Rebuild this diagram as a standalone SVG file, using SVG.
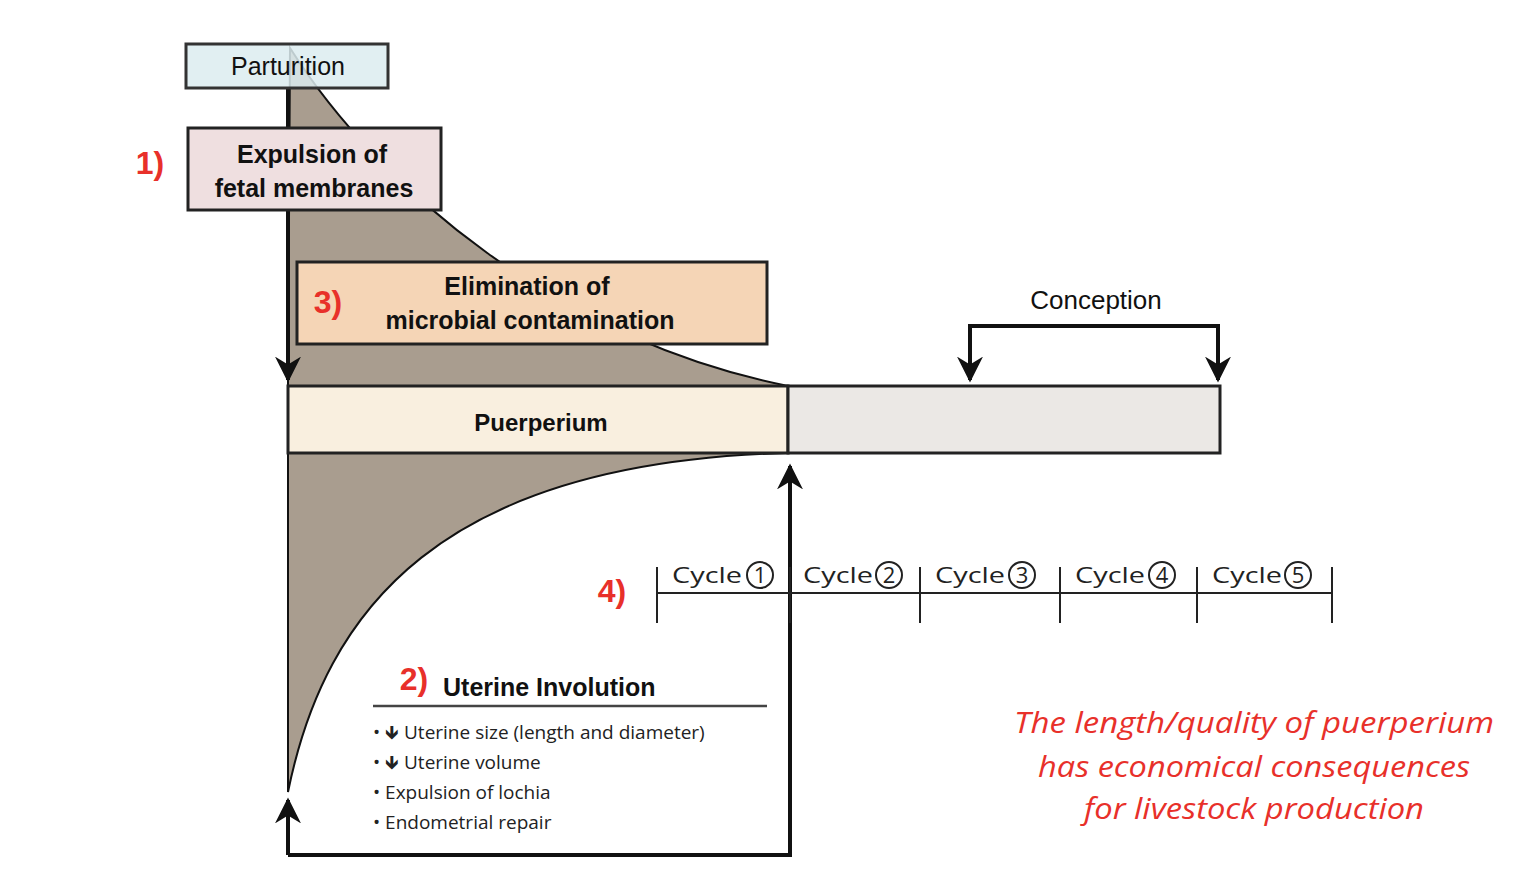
<svg xmlns="http://www.w3.org/2000/svg" width="1518" height="882" viewBox="0 0 1518 882">
<defs>
<marker id="ahb" viewBox="0 0 10 10" refX="9" refY="5" markerWidth="26" markerHeight="26" orient="auto" markerUnits="userSpaceOnUse"><path d="M0,0 L10,5 L0,10 L3,5 Z" fill="#111"/></marker>
<style>
.t{font-family:"Liberation Sans",Arial,sans-serif;fill:#111}
.b{font-weight:bold}
.r{font-family:"Liberation Sans",Arial,sans-serif;fill:#e8302a;font-weight:bold}
.ln{stroke:#111;stroke-width:4;fill:none}
.thin{stroke:#222;stroke-width:2;fill:none}
.cyc{font-family:"Open Sans","Liberation Sans",sans-serif;font-size:22px;fill:#222}
.li{font-family:"Open Sans","Liberation Sans",sans-serif;font-size:19px;fill:#222}
.n{font-family:"Open Sans",Lato,sans-serif;font-style:italic;font-size:29px;fill:#e8302a}
</style>
</defs>
<g id="shading">
<path d="M290,48 C380,190 560,340 788,386 L288,386 Z" fill="#a99d8f" stroke="#111" stroke-width="2"/>
<path d="M288,453 L788,453 C440,462 325,610 288,792 Z" fill="#a99d8f" stroke="#111" stroke-width="2"/>
</g>
<g id="connectors">
<path class="ln" d="M288,88 L288,380" marker-end="url(#ahb)"/>
<path class="ln" d="M288,855 L790,855 L790,466" marker-end="url(#ahb)"/>
<path class="ln" d="M288,855 L288,800" marker-end="url(#ahb)"/>
<path class="ln" d="M970,380 L970,326 L1218,326 L1218,380"/>
<path class="ln" d="M970,360 L970,380" marker-end="url(#ahb)"/>
<path class="ln" d="M1218,360 L1218,380" marker-end="url(#ahb)"/>
</g>
<g id="parturition">
<rect x="186" y="44" width="202" height="44" fill="#dcecf0" fill-opacity="0.85" stroke="#333" stroke-width="3"/>
<text class="t" x="288" y="75" font-size="25" text-anchor="middle">Parturition</text>
</g>
<g id="expulsion">
<rect x="188" y="128" width="253" height="82" fill="#efdfe0" stroke="#222" stroke-width="3"/>
<text class="t b" x="312" y="163" font-size="25" text-anchor="middle">Expulsion of</text>
<text class="t b" x="314" y="197" font-size="25" text-anchor="middle">fetal membranes</text>
<text class="r" x="150" y="174" font-size="32" text-anchor="middle">1)</text>
</g>
<g id="elimination">
<rect x="297" y="262" width="470" height="82" fill="#f5d5b6" stroke="#222" stroke-width="3"/>
<text class="t b" x="527" y="295" font-size="25" text-anchor="middle">Elimination of</text>
<text class="t b" x="530" y="329" font-size="25" text-anchor="middle">microbial contamination</text>
<text class="r" x="328" y="313" font-size="32" text-anchor="middle">3)</text>
</g>
<g id="puerperium">
<rect x="288" y="386" width="500" height="67" fill="#f9efdf" stroke="#222" stroke-width="3"/>
<text class="t b" x="541" y="431" font-size="24" text-anchor="middle">Puerperium</text>
</g>
<g id="post">
<rect x="788" y="386" width="432" height="67" fill="#ebe8e5" stroke="#222" stroke-width="3"/>
</g>
<g id="conception">
<text class="t" x="1096" y="309" font-size="26" text-anchor="middle">Conception</text>
</g>
<g id="cycles">
<path class="thin" d="M657,593 L1332,593 M657,567 L657,623 M790,567 L790,623 M920,567 L920,623 M1060,567 L1060,623 M1197,567 L1197,623 M1332,567 L1332,623"/>
<text class="cyc" x="672" y="583" textLength="70" lengthAdjust="spacingAndGlyphs">Cycle</text><circle cx="760" cy="575" r="13" class="thin" stroke-width="1.6"/><text class="cyc" x="760" y="583" text-anchor="middle">1</text>
<text class="cyc" x="803" y="583" textLength="70" lengthAdjust="spacingAndGlyphs">Cycle</text><circle cx="889" cy="575" r="13" class="thin" stroke-width="1.6"/><text class="cyc" x="889" y="583" text-anchor="middle">2</text>
<text class="cyc" x="935" y="583" textLength="70" lengthAdjust="spacingAndGlyphs">Cycle</text><circle cx="1022" cy="575" r="13" class="thin" stroke-width="1.6"/><text class="cyc" x="1022" y="583" text-anchor="middle">3</text>
<text class="cyc" x="1075" y="583" textLength="70" lengthAdjust="spacingAndGlyphs">Cycle</text><circle cx="1162" cy="575" r="13" class="thin" stroke-width="1.6"/><text class="cyc" x="1162" y="583" text-anchor="middle">4</text>
<text class="cyc" x="1212" y="583" textLength="70" lengthAdjust="spacingAndGlyphs">Cycle</text><circle cx="1298" cy="575" r="13" class="thin" stroke-width="1.6"/><text class="cyc" x="1298" y="583" text-anchor="middle">5</text>
<text class="r" x="612" y="602" font-size="32" text-anchor="middle">4)</text>
</g>
<g id="involution">
<text class="r" x="414" y="690" font-size="32" text-anchor="middle">2)</text>
<text class="t b" x="443" y="696" font-size="25">Uterine Involution</text>
<path d="M373,706 L767,706" stroke="#444" stroke-width="2.5"/>
<text class="li" x="373" y="739">•  🡻 Uterine size (length and diameter)</text>
<text class="li" x="373" y="769">•  🡻 Uterine volume</text>
<text class="li" x="373" y="799">•  Expulsion of lochia</text>
<text class="li" x="373" y="829">•  Endometrial repair</text>
</g>
<g id="note">
<text class="n" x="1254" y="733" text-anchor="middle" textLength="480" lengthAdjust="spacingAndGlyphs">The length/quality of puerperium</text>
<text class="n" x="1254" y="777" text-anchor="middle" textLength="432" lengthAdjust="spacingAndGlyphs">has economical consequences</text>
<text class="n" x="1254" y="819" text-anchor="middle" textLength="340" lengthAdjust="spacingAndGlyphs">for livestock production</text>
</g>
</svg>
